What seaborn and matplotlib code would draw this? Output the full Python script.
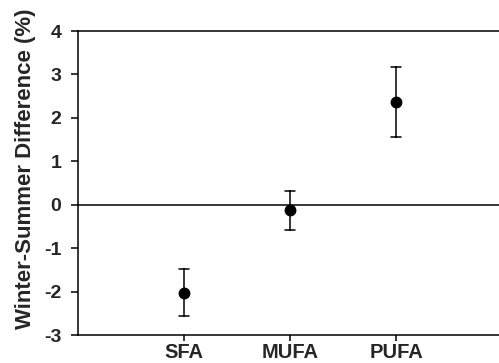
import matplotlib.pyplot as plt
import numpy as np
import pandas as pd
import seaborn as sns

acids = ['SFA', 'MUFA', 'PUFA']
diff_mean = [-2.03, -0.12, 2.37]
diff_lo = [-2.56, -0.58, 1.57]
diff_hi = [-1.49, 0.32, 3.18]

# three rows per acid: median gives the point, min-max gives the bar
rows = []
for a, m, lo, hi in zip(acids, diff_mean, diff_lo, diff_hi):
    for v in (lo, m, hi):
        rows.append({'acid': a, 'diff': v})
df = pd.DataFrame(rows)

sns.set_style('white')
plt.rcParams['font.family'] = ['Liberation Sans', 'DejaVu Sans']
plt.rcParams['font.weight'] = 'bold'
plt.rcParams['axes.unicode_minus'] = False

fig = plt.figure(figsize=(4.99, 3.63), dpi=100)
ax = fig.add_axes([78 / 499, 28 / 363, 1 - 78 / 499, 304 / 363])

sns.pointplot(data=df, x='acid', y='diff', order=acids, estimator='median',
              errorbar=('pi', 100), linestyle='none', color='black',
              markersize=6.5, capsize=0.09, err_kws={'linewidth': 1.1}, ax=ax)

ax.axhline(0, color='black', lw=1.1, zorder=0)
ax.set_ylim(-3, 4)
ax.set_xlim(-1, 2.97)
ax.set_yticks(range(-3, 5))
ax.set_xlabel('')
ax.set_ylabel('Winter-Summer Difference (%)', fontsize=16, fontweight='bold')
ax.yaxis.set_label_coords(-0.10, 0.546)

for s in ['left', 'bottom', 'top']:
    ax.spines[s].set_color('black')
    ax.spines[s].set_linewidth(1.1)
ax.spines['right'].set_visible(False)
ax.tick_params(axis='y', direction='out', length=5, width=1.1, color='black', labelsize=14, pad=7, left=True)
ax.tick_params(axis='x', direction='out', length=4, width=1.1, color='black', labelsize=14.5, pad=2, bottom=True)

fig.savefig('out.png', dpi=100)
